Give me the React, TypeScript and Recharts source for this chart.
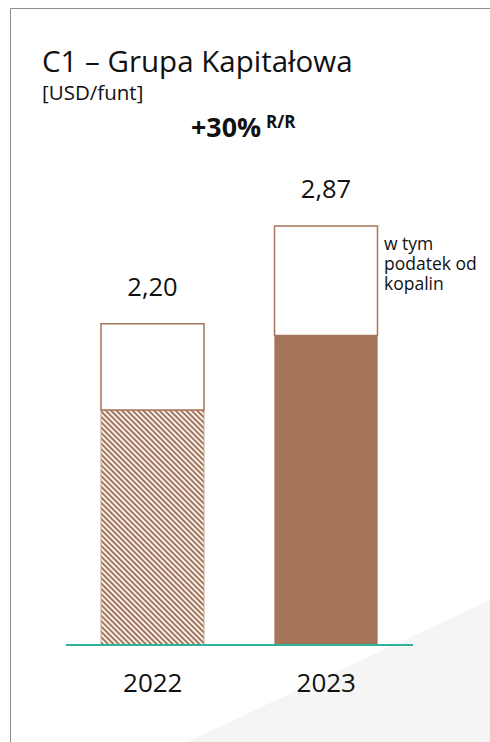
import { BarChart, Bar, XAxis, YAxis, LabelList, Cell } from "recharts";

const years = ["2022", "2023"];
const bazowy = [1.61, 2.12];
const podatek = [0.59, 0.75];
const razem = [2.2, 2.87];

const data = years.map((year, i) => ({
  year,
  bazowy: bazowy[i],
  podatek: podatek[i],
  razem: razem[i],
}));

const noteLines = ["w tym", "podatek od", "kopalin"];

const BROWN = "#a5755a";
const FONT = "'Open Sans', 'Noto Sans', sans-serif";

const fmt = (v: any) => Number(v).toFixed(2).replace(".", ",");

export default function App() {
  return (
    <div style={{ position: "relative", width: 490, height: 742, overflow: "hidden", background: "#fff", fontFamily: FONT }}>
      <style>{`body{margin:0}`}</style>
      <svg width={490} height={742} style={{ position: "absolute", left: 0, top: 0 }}>
        <polygon points="187,742 490,600 490,742" fill="#f5f5f5" />
        <path d="M10.5,742 L10.5,8.5 L490,8.5" fill="none" stroke="#8c8c8c" strokeWidth={1} />
      </svg>

      <div style={{ position: "absolute", left: 42, top: 49, fontSize: 29.5, color: "#111", lineHeight: "24px", whiteSpace: "nowrap" }}>
        C1 – Grupa Kapitałowa
      </div>
      <div style={{ position: "absolute", left: 42, top: 84, fontSize: 20.5, color: "#111", lineHeight: "17px", whiteSpace: "nowrap" }}>
        [USD/funt]
      </div>
      <div style={{ position: "absolute", left: 191, top: 113.5, fontSize: 26.8, fontWeight: 700, color: "#111", lineHeight: 1, whiteSpace: "nowrap" }}>
        +30%
        <span style={{ fontSize: 17, position: "relative", top: -9, marginLeft: 5 }}>R/R</span>
      </div>
      {noteLines.map((t, i) => (
        <div
          key={t}
          style={{ position: "absolute", left: 384, top: 235 + i * 20, fontSize: 17.5, color: "#111", lineHeight: "17px", whiteSpace: "nowrap" }}
        >
          {t}
        </div>
      ))}

      <div style={{ position: "absolute", left: 0, top: 0 }}>
        <BarChart
          width={490}
          height={742}
          data={data}
          margin={{ top: 207, right: 77, left: 66, bottom: 67 }}
          barCategoryGap={0}
        >
          <defs>
            <pattern id="hatch" width="3.8" height="6" patternUnits="userSpaceOnUse" patternTransform="rotate(-45)">
              <rect width="3.8" height="6" fill="#fff" />
              <rect width="2.1" height="6" fill={BROWN} />
            </pattern>
          </defs>
          <YAxis hide domain={[0, 3]} />
          <XAxis
            dataKey="year"
            height={30}
            axisLine={{ stroke: "#2eb398", strokeWidth: 2 }}
            tickLine={false}
            tickSize={0}
            tickMargin={29}
            tick={{ fontSize: 26, fill: "#111", fontFamily: FONT }}
          />
          <Bar dataKey="bazowy" stackId="a" barSize={103} stroke="#c7a593" strokeWidth={1} isAnimationActive={false}>
            {data.map((d, i) => (
              <Cell key={d.year} fill={i === 0 ? "url(#hatch)" : BROWN} />
            ))}
          </Bar>
          <Bar dataKey="podatek" stackId="a" barSize={103} fill="#fff" stroke={BROWN} strokeWidth={1.5} isAnimationActive={false}>
            <LabelList
              dataKey="razem"
              position="top"
              offset={28}
              formatter={fmt}
              style={{ fontSize: 25.5, fill: "#111", fontFamily: FONT }}
            />
          </Bar>
        </BarChart>
      </div>
    </div>
  );
}
